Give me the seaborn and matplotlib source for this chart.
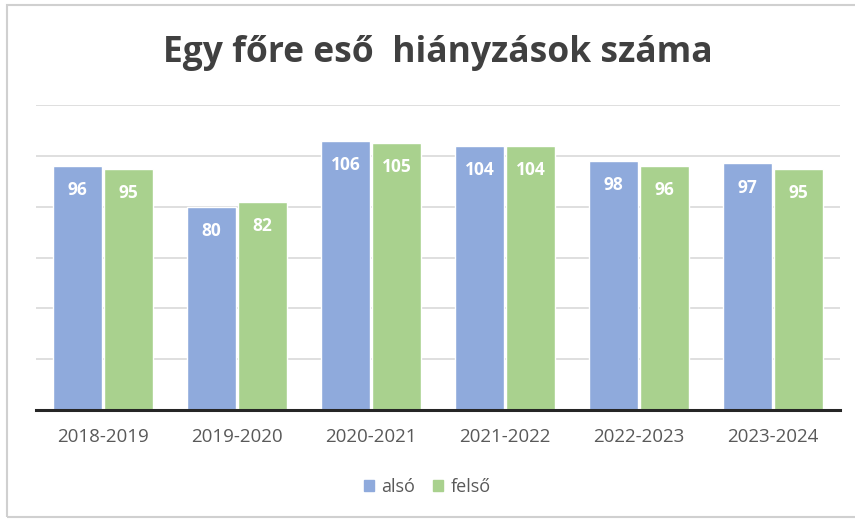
import pandas as pd
import matplotlib
matplotlib.use("Agg")
import matplotlib.pyplot as plt
import seaborn as sns
from matplotlib.patches import Rectangle

# chart data
years = ["2018-2019", "2019-2020", "2020-2021", "2021-2022", "2022-2023", "2023-2024"]
also = [96, 80, 106, 104, 98, 97]
felso = [95, 82, 105, 104, 96, 95]
series_names = ["alsó", "felső"]
colors = ["#8faadc", "#a9d18e"]

df = pd.DataFrame({
    "year": years * 2,
    "value": also + felso,
    "series": [series_names[0]] * len(years) + [series_names[1]] * len(years),
})

sns.set_theme(style="white")
plt.rcParams["font.family"] = ["Open Sans", "DejaVu Sans"]

fig = plt.figure(figsize=(8.55, 5.19), dpi=100)
ax = fig.add_axes([36 / 855, 1 - 410 / 519, 804 / 855, 305 / 519])

sns.barplot(data=df, x="year", y="value", hue="series", palette=colors,
            width=0.76, gap=0.04, ax=ax, legend=False, saturation=1)

ax.set_ylim(0, 120)
ax.set_yticks(range(20, 121, 20))
ax.yaxis.grid(True, color="#d9d9d9", linewidth=1.2)
ax.set_axisbelow(True)
ax.set_yticklabels([])
ax.tick_params(axis="y", length=0)
ax.tick_params(axis="x", length=0, pad=13, labelsize=13.5, labelcolor="#595959")
ax.set_xlabel("")
ax.set_ylabel("")
for side in ["top", "right", "left"]:
    ax.spines[side].set_visible(False)
ax.spines["bottom"].set_color("#262626")
ax.spines["bottom"].set_linewidth(2.2)

for cont in ax.containers:
    ax.bar_label(cont, padding=-24, color="white", fontsize=12.5, fontweight="bold")

fig.text(438 / 855, 1 - 53 / 519, "Egy főre eső  hiányzások száma", ha="center", va="center",
         fontsize=25.5, fontweight="bold", color="#404040")

# legend
handles = [plt.Rectangle((0, 0), 1, 1, color=c) for c in colors]
fig.legend(handles, series_names, loc="center", bbox_to_anchor=(0.5, 1 - 487 / 519),
           ncol=2, frameon=False, fontsize=13, handlelength=0.55, handleheight=0.55,
           handletextpad=0.4, columnspacing=1.0, labelcolor="#595959")

# image frame
fig.patches.append(Rectangle((7 / 855, 2 / 519), 1.0, 512 / 519, transform=fig.transFigure,
                             fill=False, edgecolor="#d0d0d0", linewidth=1.5))

fig.savefig("out.png", dpi=100, facecolor="white")
